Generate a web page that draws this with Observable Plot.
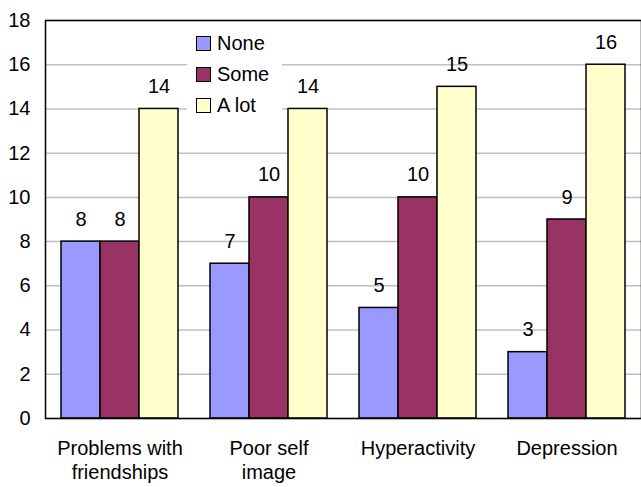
<!DOCTYPE html>
<html>
<head>
<meta charset="utf-8">
<script src="https://cdn.jsdelivr.net/npm/d3@7"></script>
<script src="https://cdn.jsdelivr.net/npm/@observablehq/plot@0.6"></script>
<style>
  html, body { margin: 0; padding: 0; background: #fff; }
  #wrap { position: relative; width: 641px; height: 487px; font-family: "Liberation Sans", Arial, sans-serif; }
  #legend { position: absolute; left: 187px; top: 28px; width: 95px; height: 98px; background: #fff; }
  #legend .item { position: absolute; left: 9px; display: flex; align-items: center; font-size: 20px; color: #000; }
  #legend .sw { width: 13px; height: 13px; border: 1px solid #000; margin-right: 6px; }
</style>
</head>
<body>
<div id="wrap"><div id="legend"></div></div>
<script>
// Categories, tick labels and the three response series
const categories = ["Problems with friendships", "Poor self image", "Hyperactivity", "Depression"];
const categoryLabels = ["Problems with\nfriendships", "Poor self\nimage", "Hyperactivity", "Depression"];
const seriesNames = ["None", "Some", "A lot"];
const seriesColors = ["#9999FF", "#993366", "#FFFFCC"];
const noneValues = [8, 7, 5, 3];
const someValues = [8, 10, 10, 9];
const aLotValues = [14, 14, 15, 16];
const yTicks = [0, 2, 4, 6, 8, 10, 12, 14, 16, 18];

const seriesValues = [noneValues, someValues, aLotValues];
const rows = [];
categories.forEach((c, i) => {
  seriesNames.forEach((s, j) => rows.push({category: c, series: s, value: seriesValues[j][i]}));
});

const chart = Plot.plot({
  width: 641,
  height: 487,
  marginLeft: 45,
  marginRight: 0,
  marginTop: 20,
  marginBottom: 69,
  style: {fontFamily: "'Liberation Sans', Arial, sans-serif", fontSize: "20px", background: "#fff", color: "#000"},
  fx: {domain: categories, paddingInner: 0, paddingOuter: 0},
  x: {domain: seriesNames, paddingInner: 0, paddingOuter: 0.4, axis: null},
  y: {domain: [0, 18]},
  color: {domain: seriesNames, range: seriesColors},
  marks: [
    Plot.ruleY(yTicks, {stroke: "#C0C0C0", strokeWidth: 1.5}),
    Plot.barY(rows, {fx: "category", x: "series", y: "value", fill: "series", stroke: "#000", strokeWidth: 1.5}),
    Plot.text(rows, {fx: "category", x: "series", y: "value", text: "value", dy: -16, lineAnchor: "bottom", fontSize: 20, fill: "#000"}),
    Plot.frame({facet: "super", stroke: "#000", strokeWidth: 1.5}),
    Plot.axisY({ticks: yTicks, tickSize: 0, tickPadding: 15, fontSize: 20, label: null}),
    Plot.axisFx({anchor: "bottom", tickSize: 0, tickPadding: 19, fontSize: 20, lineHeight: 1.2, label: null,
      tickFormat: d => categoryLabels[categories.indexOf(d)]})
  ]
});

const wrap = document.getElementById("wrap");
wrap.insertBefore(chart, wrap.firstChild);

// Legend boxed over the plot area
const legend = document.getElementById("legend");
seriesNames.forEach((s, i) => {
  const item = document.createElement("div");
  item.className = "item";
  item.style.top = (4 + i * 31) + "px";
  const sw = document.createElement("span");
  sw.className = "sw";
  sw.style.background = seriesColors[i];
  item.appendChild(sw);
  item.appendChild(document.createTextNode(s));
  legend.appendChild(item);
});
</script>
</body>
</html>
